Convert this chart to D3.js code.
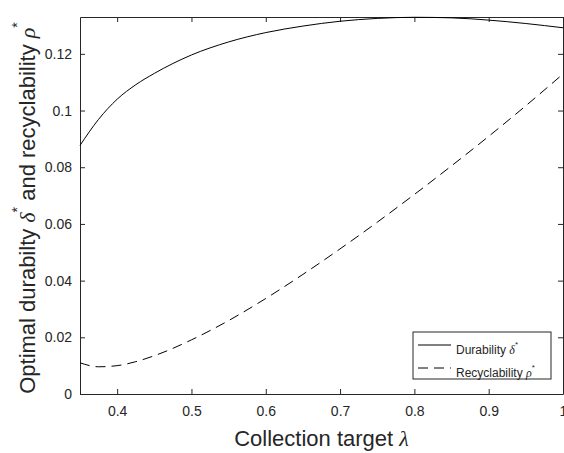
<!DOCTYPE html>
<html>
<head>
<meta charset="utf-8">
<script src="https://cdn.jsdelivr.net/npm/d3@7"></script>
<style>
  body { margin: 0; background: #fff; }
  text { font-family: "Liberation Sans", Arial, sans-serif; fill: #262626; }
  .greek { font-family: "Liberation Serif", "Times New Roman", serif; font-style: italic; }
</style>
</head>
<body>
<div id="chart"></div>
<script>
// collection target lambda
const lambda_vals = [0.35, 0.375, 0.40, 0.425, 0.45, 0.50, 0.55, 0.60, 0.65, 0.70, 0.75, 0.80, 0.85, 0.90, 0.95, 1.00];
// optimal durability delta*
const durability_vals = [0.0877, 0.0969, 0.1040, 0.1091, 0.1131, 0.1196, 0.1242, 0.1275, 0.1298, 0.1315, 0.1325, 0.1329, 0.1327, 0.1319, 0.1307, 0.1292];
// optimal recyclability rho*
const recyclability_vals = [0.0110, 0.0096, 0.0100, 0.0114, 0.0135, 0.0191, 0.0259, 0.0337, 0.0422, 0.0512, 0.0606, 0.0704, 0.0805, 0.0909, 0.1017, 0.1129];

const x_ticks = [0.4, 0.5, 0.6, 0.7, 0.8, 0.9, 1];
const y_ticks = [0, 0.02, 0.04, 0.06, 0.08, 0.1, 0.12];

let width = 564, height = 453;
let margin = {left: 80, top: 17, right: 1, bottom: 59};
let axis_color = "#262626";

let svg = d3.select("#chart").append("svg")
    .attr("width", width)
    .attr("height", height);

let xScale = d3.scaleLinear()
    .domain([0.35, 1])
    .range([margin.left, width - margin.right]);

let yScale = d3.scaleLinear()
    .domain([0, 0.133])
    .range([height - margin.bottom, margin.top]);

// bottom axis, ticks inward
let x_axis = svg.append("g")
    .attr("transform", "translate(0," + yScale(0) + ")")
    .call(d3.axisBottom(xScale).tickValues(x_ticks).tickSizeInner(-5).tickSizeOuter(0).tickPadding(12).tickFormat(d => String(d)));
x_axis.selectAll("text").attr("font-size", "14px").attr("fill", axis_color).style("font-family", "Liberation Sans, Arial, sans-serif");

let y_axis = svg.append("g")
    .attr("transform", "translate(" + margin.left + ",0)")
    .call(d3.axisLeft(yScale).tickValues(y_ticks).tickSizeInner(-5).tickSizeOuter(0).tickPadding(8).tickFormat(d => String(d)));
y_axis.selectAll("text").attr("font-size", "14px").attr("fill", axis_color).style("font-family", "Liberation Sans, Arial, sans-serif");

// top and right box with ticks
svg.append("g")
    .attr("transform", "translate(0," + margin.top + ")")
    .call(d3.axisTop(xScale).tickValues(x_ticks).tickSizeInner(-5).tickSizeOuter(0).tickFormat(""));
svg.append("g")
    .attr("transform", "translate(" + (width - margin.right) + ",0)")
    .call(d3.axisRight(yScale).tickValues(y_ticks).tickSizeInner(-5).tickSizeOuter(0).tickFormat(""));

svg.selectAll(".domain, .tick line").attr("stroke", axis_color).attr("stroke-width", 1);

// curves
let line_gen = d3.line()
    .x((d, i) => xScale(lambda_vals[i]))
    .y(d => yScale(d))
    .curve(d3.curveMonotoneX);

svg.append("path")
    .datum(durability_vals)
    .attr("d", line_gen)
    .attr("fill", "none")
    .attr("stroke", "black")
    .attr("stroke-width", 1);

svg.append("path")
    .datum(recyclability_vals)
    .attr("d", line_gen)
    .attr("fill", "none")
    .attr("stroke", "black")
    .attr("stroke-width", 1)
    .attr("stroke-dasharray", "10,6");

// legend
let legend = svg.append("g");
legend.append("rect")
    .attr("x", 413).attr("y", 332)
    .attr("width", 138).attr("height", 47)
    .attr("fill", "white")
    .attr("stroke", axis_color)
    .attr("stroke-width", 1);

let legend_items = [
    {label: "Durability ", sym: "\u03B4", dash: null},
    {label: "Recyclability ", sym: "\u03C1", dash: "10,6"}
];

legend_items.forEach(function(item, i) {
    let ly = 345 + i * 23;
    legend.append("line")
        .attr("x1", 418).attr("x2", 451)
        .attr("y1", ly).attr("y2", ly)
        .attr("stroke", "black")
        .attr("stroke-width", 1)
        .attr("stroke-dasharray", item.dash);
    let t = legend.append("text")
        .attr("x", 456).attr("y", ly + 9)
        .attr("font-size", "12px");
    t.append("tspan").text(item.label);
    t.append("tspan").attr("class", "greek").text(item.sym);
    t.append("tspan").attr("font-size", "8px").attr("dy", -7).text("*");
});

// axis labels
let xl = svg.append("text")
    .attr("x", (xScale.range()[0] + xScale.range()[1]) / 2)
    .attr("y", 446)
    .attr("text-anchor", "middle")
    .attr("font-size", "22px");
xl.append("tspan").text("Collection target ");
xl.append("tspan").attr("class", "greek").text("\u03BB");

let yl = svg.append("text")
    .attr("transform", "translate(35," + 208 + ") rotate(-90)")
    .attr("text-anchor", "middle")
    .attr("font-size", "22px");
yl.append("tspan").text("Optimal durabilty ");
yl.append("tspan").attr("class", "greek").text("\u03B4");
yl.append("tspan").attr("font-size", "14px").attr("dy", -13).text("*");
yl.append("tspan").attr("dy", 13).text(" and recyclability ");
yl.append("tspan").attr("class", "greek").text("\u03C1");
yl.append("tspan").attr("font-size", "14px").attr("dy", -13).text("*");
</script>
</body>
</html>
